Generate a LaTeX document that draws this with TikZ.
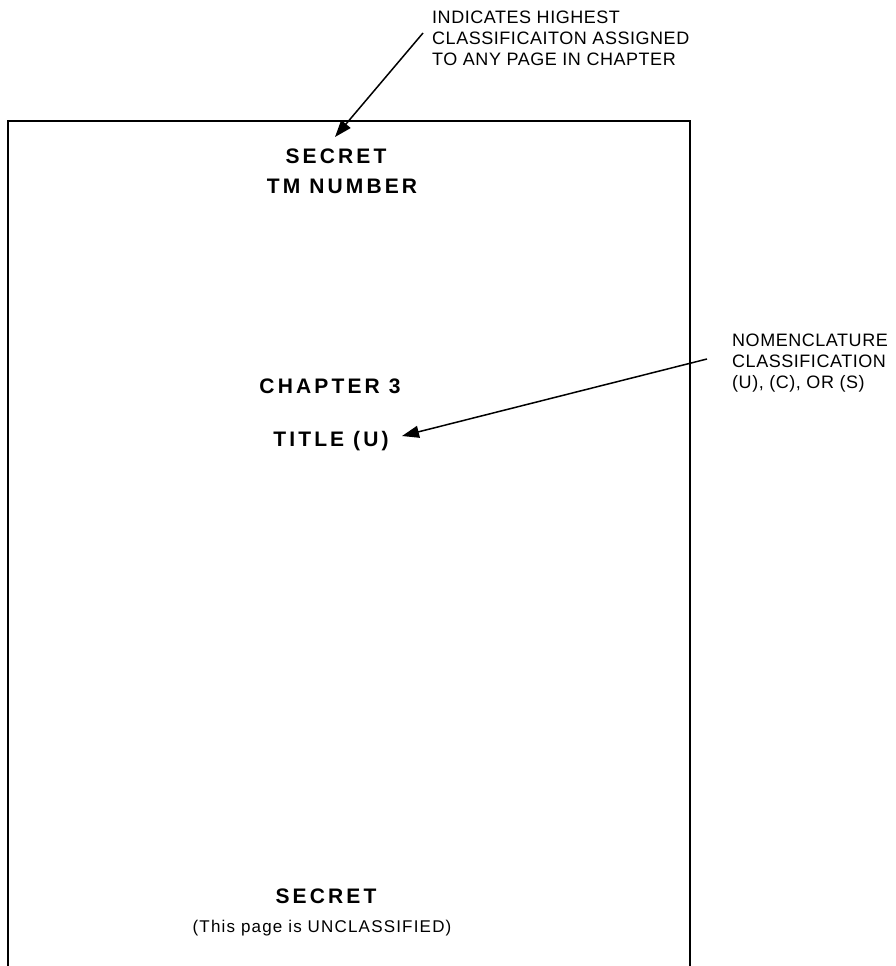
\documentclass[tikz,border=0pt]{standalone}
\usepackage{fontspec}
\setmainfont{Liberation Sans}
\newfontfamily\headfont[LetterSpace=15]{Liberation Sans}
\newfontfamily\notefont[LetterSpace=3]{Liberation Sans}
\newfontfamily\smallfont[LetterSpace=7]{Liberation Sans}
\usetikzlibrary{arrows.meta}
\begin{document}
\begin{tikzpicture}[x=1pt,y=-1pt,
  head/.style={font=\headfont\bfseries\fontsize{21}{25}\selectfont, inner sep=0pt, anchor=base},
  note/.style={font=\notefont\fontsize{18}{21}\selectfont, inner sep=0pt, anchor=base west},
  small/.style={font=\smallfont\fontsize{17}{20}\selectfont, inner sep=0pt, anchor=base},
  pointer/.style={line width=1.5pt, -{Triangle[length=17pt,width=12pt]}},
  frame/.style={line width=2pt}]
\useasboundingbox (0,0) rectangle (895,966);
% page frame (open at bottom)
\draw[frame] (8,966) -- (8,121) -- (690,121) -- (690,966);
% page texts
\node[head] (secret) at (336,163) {SECRET};
\node[head] (tm) at (342,193.5) {TM NUMBER};
\node[head] (chapter) at (330,393) {CHAPTER 3};
\node[head] (title) at (331,446) {TITLE (U)};
\node[head] (secretb) at (326,903) {SECRET};
\node[small] (uncl) at (322,932) {(This page is UNCLASSIFIED)};
% top annotation
\node[note] (n1a) at (432,23.5) {INDICATES HIGHEST};
\node[note] (n1b) at (432,44.5) {CLASSIFICAITON ASSIGNED};
\node[note] (n1c) at (432,65.5) {TO ANY PAGE IN CHAPTER};
% right annotation
\node[note] (n2a) at (732,346.5) {NOMENCLATURE};
\node[note] (n2b) at (732,367.5) {CLASSIFICATION};
\node[note] (n2c) at (732,388.5) {(U), (C), OR (S)};
% arrows
\coordinate (s1) at (423,33);
\coordinate (t1) at (335,137);
\coordinate (s2) at (707,359);
\coordinate (t2) at (402,436);
\draw[pointer] (s1) -- (t1);
\draw[pointer] (s2) -- (t2);
\end{tikzpicture}
\end{document}
